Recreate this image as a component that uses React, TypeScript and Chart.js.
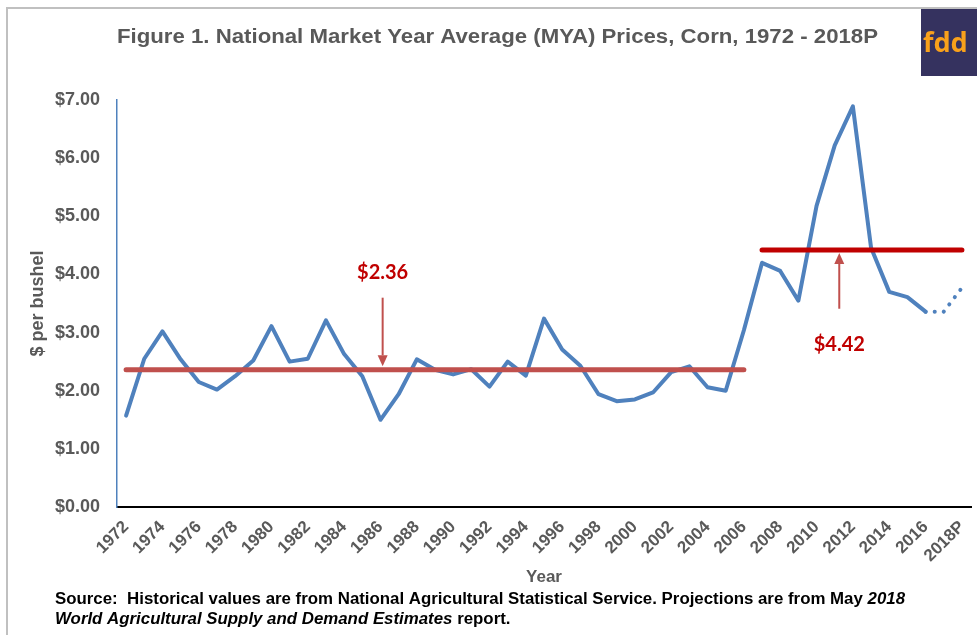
import React, { useEffect, useRef } from "react";
import { Chart, registerables } from "chart.js";

Chart.register(...registerables);

// ---------- DATA ----------
const years: string[] = [
  "1972", "1973", "1974", "1975", "1976", "1977", "1978", "1979", "1980", "1981",
  "1982", "1983", "1984", "1985", "1986", "1987", "1988", "1989", "1990", "1991",
  "1992", "1993", "1994", "1995", "1996", "1997", "1998", "1999", "2000", "2001",
  "2002", "2003", "2004", "2005", "2006", "2007", "2008", "2009", "2010", "2011",
  "2012", "2013", "2014", "2015", "2016", "2017", "2018P",
];

// Historical MYA prices, 1972 - 2016 ($ per bushel)
const historicalPrices: number[] = [
  1.57, 2.55, 3.02, 2.54, 2.15, 2.02, 2.25, 2.52, 3.11, 2.50,
  2.55, 3.21, 2.63, 2.25, 1.50, 1.94, 2.54, 2.36, 2.28, 2.37,
  2.07, 2.50, 2.26, 3.24, 2.71, 2.43, 1.94, 1.82, 1.85, 1.97,
  2.32, 2.42, 2.06, 2.00, 3.04, 4.20, 4.06, 3.55, 5.18, 6.22,
  6.89, 4.46, 3.70, 3.61, 3.36,
];

// Projected prices (dotted), 2017 and 2018P
const projectedYears: string[] = ["2017", "2018P"];
const projectedPrices: number[] = [3.36, 3.77];

// Period averages
const avgValues: number[] = [2.36, 4.42];
const avgStart: string[] = ["1972", "2007"];
const avgEnd: string[] = ["2006", "2018P"];
const avgLabels: string[] = ["$2.36", "$4.42"];

// Y axis ticks
const yTicks: number[] = [0, 1, 2, 3, 4, 5, 6, 7];

// ---------- TEXT ----------
const TITLE = "Figure 1. National Market Year Average (MYA) Prices, Corn, 1972 - 2018P";
const Y_TITLE = "$ per bushel";
const X_TITLE = "Year";

// Annotation anchors in data units: [category index, tail value, tip value, label value]
const arrowAnchors: number[][] = [
  [14.12, 3.6, 2.42, 4.03],
  [39.25, 3.41, 4.37, 2.8],
];

const FONT = '"Liberation Sans", Arial, sans-serif';

function buildAvg(k: number): (number | null)[] {
  const s = years.indexOf(avgStart[k]);
  const e = years.indexOf(avgEnd[k]);
  return years.map((_, i) => (i >= s && i <= e ? avgValues[k] : null));
}

function buildHist(): (number | null)[] {
  return years.map((_, i) => (i < historicalPrices.length ? historicalPrices[i] : null));
}

function buildProj(): (number | null)[] {
  const last = historicalPrices.length - 1;
  return years.map((y, i) => {
    if (i === last) return historicalPrices[last];
    const j = projectedYears.indexOf(y);
    return j >= 0 ? projectedPrices[j] : null;
  });
}

const decorPlugin = {
  id: "decor",
  afterDraw(chart: any) {
    const ctx: CanvasRenderingContext2D = chart.ctx;
    const xs = chart.scales.x;
    const ys = chart.scales.y;
    ctx.save();

    // frame
    ctx.strokeStyle = "#C0C0C0";
    ctx.lineWidth = 2;
    ctx.beginPath();
    ctx.moveTo(7, 635);
    ctx.lineTo(7, 8);
    ctx.lineTo(977, 8);
    ctx.stroke();

    // title
    ctx.fillStyle = "#595959";
    ctx.font = `bold 20px ${FONT}`;
    ctx.textBaseline = "middle";
    ctx.textAlign = "left";
    {
      const w = ctx.measureText(TITLE).width;
      const target = 761;
      const sx = target / w;
      ctx.save();
      ctx.translate(117, 37);
      ctx.scale(sx, 1);
      ctx.fillText(TITLE, 0, 0);
      ctx.restore();
    }

    // logo
    ctx.fillStyle = "#35325F";
    ctx.fillRect(921, 9, 56, 67);
    ctx.fillStyle = "#F9A11B";
    ctx.font = `bold 27px "Noto Sans", sans-serif`;
    ctx.textBaseline = "alphabetic";
    ctx.fillText("fdd", 923, 52);

    // footnote
    {
      ctx.fillStyle = "#000000";
      ctx.textBaseline = "middle";
      const b = `bold 16px ${FONT}`;
      const bi = `italic bold 16px ${FONT}`;
      const line1: [string, string][] = [
        ["Source:  Historical values are from National Agricultural Statistical Service. Projections are from May ", b],
        ["2018", bi],
      ];
      const line2: [string, string][] = [
        ["World Agricultural Supply and Demand Estimates", bi],
        [" report.", b],
      ];
      const measure = (parts: [string, string][]) =>
        parts.reduce((acc, [t, f]) => {
          ctx.font = f;
          return acc + ctx.measureText(t).width;
        }, 0);
      const sx = 850 / measure(line1);
      const drawLine = (parts: [string, string][], y: number) => {
        ctx.save();
        ctx.translate(55, y);
        ctx.scale(sx, 1);
        let x = 0;
        for (const [t, f] of parts) {
          ctx.font = f;
          ctx.fillText(t, x, 0);
          x += ctx.measureText(t).width;
        }
        ctx.restore();
      };
      drawLine(line1, 600);
      drawLine(line2, 620);
    }

    // arrows + labels
    arrowAnchors.forEach(([idx, tail, tip, lab], k) => {
      const x = xs.getPixelForValue(idx);
      const y0 = ys.getPixelForValue(tail);
      const y1 = ys.getPixelForValue(tip);
      const dir = y1 > y0 ? 1 : -1;
      const head = 11;
      ctx.strokeStyle = "#C0504D";
      ctx.fillStyle = "#C0504D";
      ctx.lineWidth = 2;
      ctx.beginPath();
      ctx.moveTo(x, y0);
      ctx.lineTo(x, y1 - dir * head);
      ctx.stroke();
      ctx.beginPath();
      ctx.moveTo(x, y1);
      ctx.lineTo(x - 5, y1 - dir * head);
      ctx.lineTo(x + 5, y1 - dir * head);
      ctx.closePath();
      ctx.fill();

      ctx.fillStyle = "#C00000";
      ctx.font = `bold 20px Lato, "Open Sans", sans-serif`;
      ctx.textAlign = "center";
      ctx.textBaseline = "middle";
      ctx.fillText(avgLabels[k], x, ys.getPixelForValue(lab));
    });

    ctx.restore();
  },
};

export default function App() {
  const ref = useRef<HTMLCanvasElement | null>(null);

  useEffect(() => {
    if (!ref.current) return;
    Chart.defaults.font.family = FONT;
    const chart = new Chart(ref.current, {
      type: "line",
      data: {
        labels: years,
        datasets: [
          {
            label: "Average 1972-2006",
            data: buildAvg(0),
            borderColor: "#C0504D",
            borderWidth: 5,
            pointRadius: 0,
            borderCapStyle: "round",
            order: 1,
          },
          {
            label: "Average 2007-2018P",
            data: buildAvg(1),
            borderColor: "#C00000",
            borderWidth: 5,
            pointRadius: 0,
            borderCapStyle: "round",
            order: 2,
          },
          {
            label: "MYA price",
            data: buildHist(),
            borderColor: "#4F81BD",
            borderWidth: 4,
            pointRadius: 0,
            borderJoinStyle: "round",
            borderCapStyle: "round",
            order: 3,
          },
          {
            label: "Projected",
            data: buildProj(),
            borderColor: "#4F81BD",
            borderWidth: 4,
            pointRadius: 0,
            borderDash: [0.1, 9],
            borderCapStyle: "round",
            order: 4,
          },
        ],
      } as any,
      options: {
        responsive: false,
        animation: false,
        events: [],
        layout: { padding: { top: 100, right: 6, left: 0, bottom: 0 } },
        plugins: {
          legend: { display: false },
          tooltip: { enabled: false },
          title: { display: false },
        },
        scales: {
          x: {
            type: "category",
            offset: true,
            grid: { display: false, drawTicks: false },
            border: { display: true, color: "#000000", width: 2 },
            ticks: {
              autoSkip: false,
              minRotation: 45,
              maxRotation: 45,
              padding: 10,
              color: "#595959",
              font: { family: FONT, weight: "bold", size: 17 },
              callback: (_v: any, i: number) => (i % 2 === 0 ? years[i] : ""),
            },
            title: {
              display: true,
              text: X_TITLE,
              color: "#595959",
              font: { family: FONT, weight: "bold", size: 17 },
              padding: { top: 0, bottom: 47 },
            },
            afterFit: (s: any) => {
              s.height = 128;
              s.paddingLeft = 0;
              s.paddingRight = 0;
            },
          },
          y: {
            min: 0,
            max: 7,
            afterBuildTicks: (s: any) => {
              s.ticks = yTicks.map((v) => ({ value: v }));
            },
            grid: { display: false, drawTicks: false },
            border: { display: true, color: "#4F81BD", width: 1.5 },
            ticks: {
              padding: 17,
              color: "#595959",
              font: { family: FONT, weight: "bold", size: 18 },
              callback: (v: any) => "$" + Number(v).toFixed(2),
            },
            title: {
              display: true,
              text: Y_TITLE,
              color: "#595959",
              font: { family: FONT, weight: "bold", size: 18 },
              padding: { top: 27, bottom: 0 },
            },
            afterFit: (s: any) => {
              s.width = 117;
              s.paddingTop = 0;
              s.paddingBottom = 0;
            },
          },
        },
      } as any,
      plugins: [decorPlugin],
    });
    return () => chart.destroy();
  }, []);

  return (
    <div style={{ position: "fixed", left: 0, top: 0, width: 977, height: 635, background: "#ffffff" }}>
      <canvas ref={ref} width={977} height={635} style={{ display: "block", width: 977, height: 635 }} />
    </div>
  );
}
